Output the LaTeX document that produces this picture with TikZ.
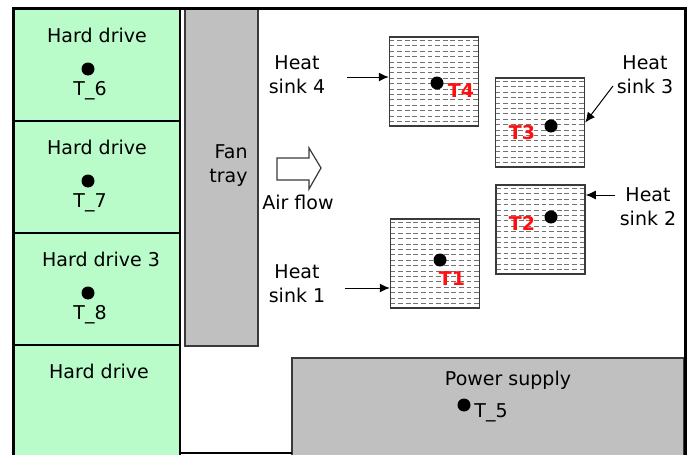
\documentclass[tikz,border=0pt]{standalone}
\usepackage{fontspec}
\setmainfont{DejaVu Sans}
\usetikzlibrary{arrows.meta, positioning, calc}
\definecolor{driveGreen}{HTML}{B9FCC9}
\definecolor{boxGrey}{HTML}{C0C0C0}
\definecolor{tempRed}{HTML}{FF1010}
\definecolor{edgeDark}{HTML}{3A3A3A}

\begin{document}
\begin{tikzpicture}[x=0.5pt, y=-0.5pt,
    drive/.style={rectangle, draw=black, line width=0.6pt, fill=driveGreen,
                  minimum width=83pt, minimum height=#1, inner sep=0pt},
    block/.style={rectangle, draw=edgeDark, line width=0.6pt, fill=boxGrey,
                  inner sep=0pt},
    sink/.style={rectangle, draw=edgeDark, line width=0.75pt, fill=white,
                 minimum size=44.5pt, inner sep=0pt,
                 path picture={\foreach \k in {1,...,16}
                   \draw[black!55, line width=0.45pt, dash pattern=on 2.4pt off 1.4pt]
                     ([yshift=-\k*2.7pt+1pt]path picture bounding box.north west)
                     -- ++(50pt,0pt);}},
    probe/.style={circle, fill=black, inner sep=0pt, minimum size=6.5pt},
    lbl/.style={font=\fontsize{9.5}{12}\selectfont, align=center, inner sep=1pt},
    tag/.style={font=\fontsize{9.5}{12}\selectfont\bfseries\color{tempRed},
                inner sep=0pt},
    ptr/.style={-{Latex[length=5pt, width=4.5pt]}, line width=0.5pt},
  ]
    \useasboundingbox (0,0) rectangle (692,455);
    \clip (0,0) rectangle (692,455);

    \node[drive=56.5pt] (hd1) at (97,64.5) {};
    \node[drive=56pt] (hd2) at (97,177) {};
    \node[drive=56pt] (hd3) at (97,289) {};
    \node[drive=62.5pt] (hd4) at (97,407.5) {};
    \node[block, minimum width=36.5pt, minimum height=169pt] (fan) at (221.5,177) {};
    \node[block, minimum width=196pt, minimum height=56pt] (psu) at (488,414) {};
    \draw[line width=0.6pt] (180,453) -- (292,453);
    \draw[line width=1.5pt] (13,470) -- (13,8) -- (685,8) -- (685,470);

    \node[lbl] (hd1lab) at (97,35) {Hard drive};
    \node[probe] (d6) at (88,69) {};
    \node[lbl] (t6) at (90,91) {T\_6};
    \node[lbl] (hd2lab) at (97,147) {Hard drive};
    \node[probe] (d7) at (88,181) {};
    \node[lbl] (t7) at (90,203) {T\_7};
    \node[lbl] (hd3lab) at (101,259) {Hard drive 3};
    \node[probe] (d8) at (88,293) {};
    \node[lbl] (t8) at (90,315) {T\_8};
    \node[lbl] (hd4lab) at (99,371) {Hard drive};

    \node[lbl, align=right, anchor=east] (fanlab) at (250,166) {Fan\\tray};
    \node[lbl] (psulab) at (508,380) {Power supply};
    \node[probe] (d5) at (464,405) {};
    \node[lbl, anchor=west] (t5) at (472,413) {T\_5};

    \draw[line width=0.6pt, edgeDark, fill=white]
      (277,158) -- (309,158) -- (309,148) -- (321,168) -- (309,189)
      -- (309,180) -- (277,180) -- cycle;
    \node[lbl] (flowlab) at (298,202) {Air flow};

    \node[sink] (hs4) at (434,81.5) {};
    \node[sink] (hs3) at (540,122.5) {};
    \node[sink] (hs2) at (540.5,229.5) {};
    \node[sink] (hs1) at (435,263.5) {};

    \node[probe] (d4) at (437,83) {};
    \node[tag] (t4) at (461,91) {T4};
    \node[probe] (d3) at (551,126) {};
    \node[tag] (t3) at (522,133) {T3};
    \node[probe] (d2) at (551,217) {};
    \node[tag] (t2) at (522,223) {T2};
    \node[probe] (d1) at (440,260) {};
    \node[tag] (t1) at (452,279) {T1};

    \node[lbl] (hs4lab) at (297,75) {Heat\\sink 4};
    \node[lbl] (hs3lab) at (645,75) {Heat\\sink 3};
    \node[lbl] (hs2lab) at (648,207) {Heat\\sink 2};
    \node[lbl] (hs1lab) at (297,284) {Heat\\sink 1};

    \coordinate (p4) at (347,77);
    \coordinate (p3) at (613,86);
    \coordinate (p2) at (615,195);
    \coordinate (p1) at (345,288);
    \draw[ptr] (p4) -- (p4 -| hs4.west);
    \draw[ptr] (p3) -- (hs3.east);
    \draw[ptr] (p2) -- (p2 -| hs2.east);
    \draw[ptr] (p1) -- (p1 -| hs1.west);
  \end{tikzpicture}
\end{document}
